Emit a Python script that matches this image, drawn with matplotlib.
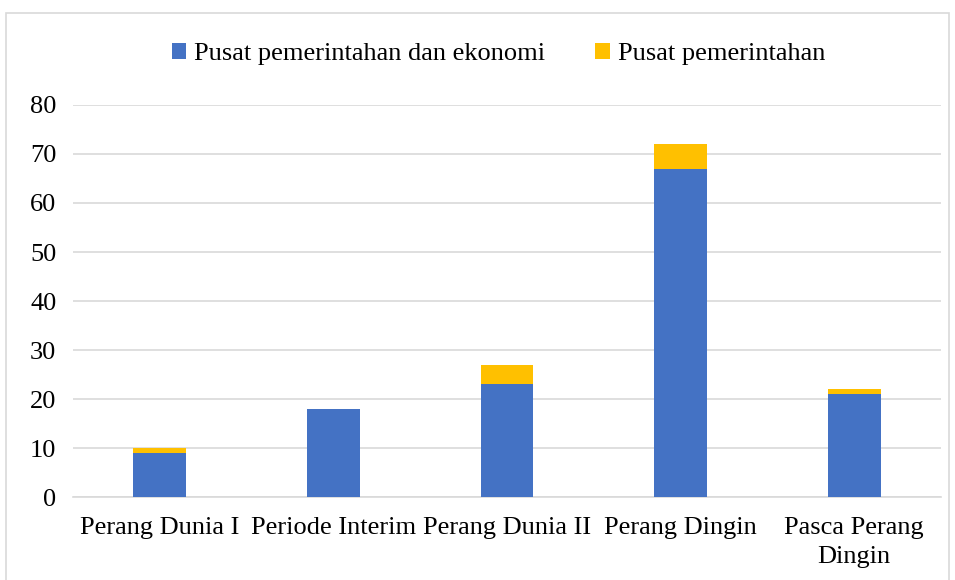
import matplotlib
matplotlib.use("Agg")
import matplotlib.pyplot as plt
from matplotlib.patches import Rectangle

categories = ["Perang Dunia I", "Periode Interim", "Perang Dunia II", "Perang Dingin",
              "Pasca Perang\nDingin"]
pemerintahan_ekonomi = [9, 18, 23, 67, 21]
pemerintahan = [1, 0, 4, 5, 1]
yticks = [0, 10, 20, 30, 40, 50, 60, 70, 80]

plt.rcParams["font.family"] = ["Liberation Serif", "DejaVu Serif"]
FS = 19

fig = plt.figure(figsize=(9.55, 5.8), dpi=100)
ax = fig.add_axes([0.0764, 0.143, 0.909, 0.676])

# chart-area frame like Excel
fig.patches.append(Rectangle((0.006, -0.01), 0.988, 0.988, transform=fig.transFigure,
                             fill=False, ec="#d9d9d9", lw=1.2))

x = range(len(categories))
ax.bar(x, pemerintahan_ekonomi, width=0.305, color="#4472C4",
       label="Pusat pemerintahan dan ekonomi", zorder=3)
ax.bar(x, pemerintahan, width=0.305, bottom=pemerintahan_ekonomi, color="#FFC000",
       label="Pusat pemerintahan", zorder=3)

ax.set_xlim(-0.5, len(categories) - 0.5)
ax.set_ylim(0, 80)
ax.set_yticks(yticks)
ax.set_xticks(list(x))
ax.set_xticklabels(categories, fontsize=FS, linespacing=1.45)
ax.tick_params(axis="y", labelsize=FS, length=0, pad=12)
ax.tick_params(axis="x", length=0, pad=14)
ax.grid(axis="y", color="#d9d9d9", lw=1.2, zorder=0)
for s in ["top", "right", "left"]:
    ax.spines[s].set_visible(False)
ax.spines["bottom"].set_color("#d9d9d9")
ax.spines["bottom"].set_linewidth(1.2)

ax.legend(loc="center", bbox_to_anchor=(0.49, 1.13), ncol=2, frameon=False,
          fontsize=FS, handlelength=0.55, handleheight=0.55, handletextpad=0.3,
          columnspacing=1.9)

fig.savefig("out.png", dpi=100)
